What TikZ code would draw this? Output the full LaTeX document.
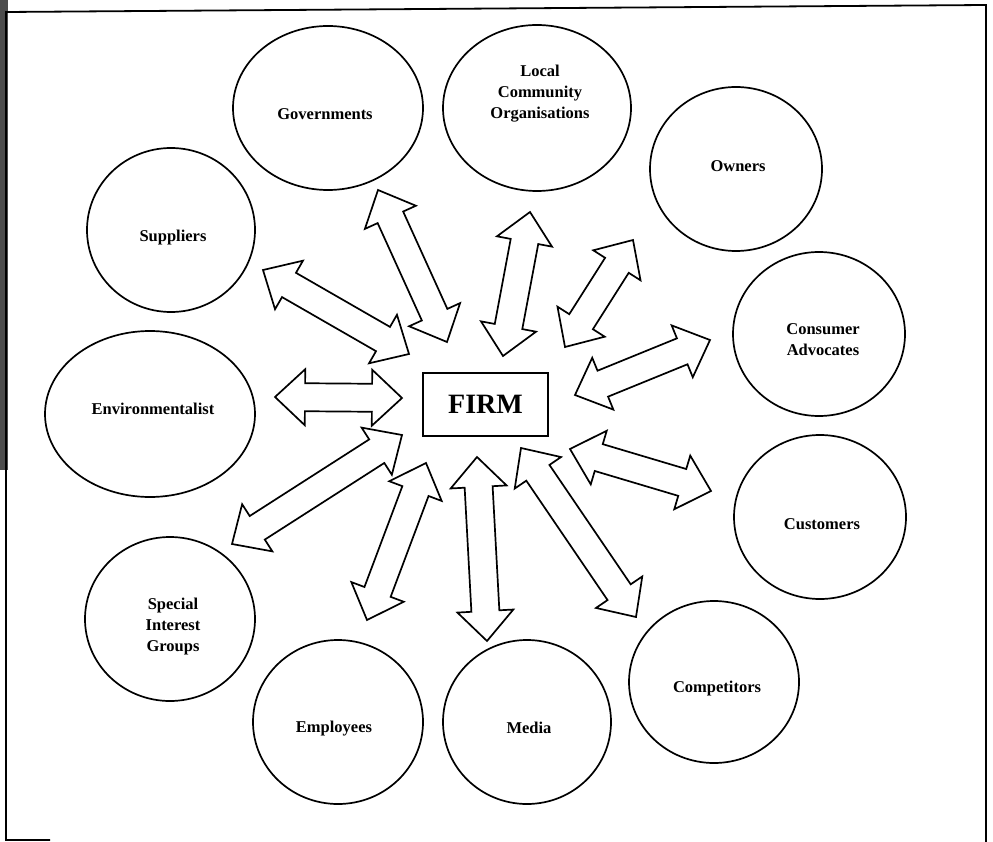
\documentclass[tikz,border=0pt]{standalone}
\usepackage{fontspec}
\setmainfont{Liberation Serif}
\usetikzlibrary{shapes.geometric,calc}
\newcommand{\dblarrow}[2]{%
\draw[blockarrow] (#1)
 -- ($($(#1)!30pt!(#2)$)!28pt!90:(#2)$)
 -- ($($(#1)!30pt!(#2)$)!14pt!90:(#2)$)
 -- ($($(#2)!30pt!(#1)$)!14pt!-90:(#1)$)
 -- ($($(#2)!30pt!(#1)$)!28pt!-90:(#1)$)
 -- (#2)
 -- ($($(#2)!30pt!(#1)$)!28pt!90:(#1)$)
 -- ($($(#2)!30pt!(#1)$)!14pt!90:(#1)$)
 -- ($($(#1)!30pt!(#2)$)!14pt!-90:(#2)$)
 -- ($($(#1)!30pt!(#2)$)!28pt!-90:(#2)$)
 -- cycle;}
\begin{document}
\begin{tikzpicture}[x=1pt,y=-1pt,
 stake/.style={ellipse,draw,line width=1.7pt,inner sep=0pt},
 lbl/.style={font=\bfseries\fontsize{16.5}{21}\selectfont,align=center,inner sep=0pt},
 blockarrow/.style={draw,line width=1.7pt,fill=white,line join=miter}]
\useasboundingbox (0,0) rectangle (993,842);
% frame
\fill[black!70] (0,0) rectangle (8,470);
\draw[line width=1.8pt] (50,840) -- (6,840) -- (6,12) -- (986,5) -- (986,842);
% stakeholder circles
\node[stake,minimum width=190pt,minimum height=164pt] (gov) at (328,108) {};
\node[stake,minimum width=188pt,minimum height=166pt] (loc) at (537,108) {};
\node[stake,minimum width=172pt,minimum height=164pt] (own) at (736,169) {};
\node[stake,minimum width=172pt,minimum height=164pt] (con) at (819,334) {};
\node[stake,minimum width=172pt,minimum height=164pt] (cus) at (820,517) {};
\node[stake,minimum width=170pt,minimum height=162pt] (com) at (714,682) {};
\node[stake,minimum width=168pt,minimum height=164pt] (med) at (527,722) {};
\node[stake,minimum width=170pt,minimum height=164pt] (emp) at (338,722) {};
\node[stake,minimum width=170pt,minimum height=164pt] (sig) at (170,619) {};
\node[stake,minimum width=210pt,minimum height=166pt] (env) at (150,414) {};
\node[stake,minimum width=168pt,minimum height=164pt] (sup) at (171,230) {};
% labels
\node[lbl] (govt) at (325,114) {Governments};
\node[lbl] (loct) at (540,94) {Local\\Community\\Organisations};
\node[lbl] (ownt) at (738,166) {Owners};
\node[lbl] (cont) at (823,340) {Consumer\\Advocates};
\node[lbl] (cust) at (822,524) {Customers};
\node[lbl] (comt) at (717,689) {Competitors};
\node[lbl] (medt) at (529,728) {Media};
\node[lbl] (empt) at (334,729) {Employees};
\node[lbl] (sigt) at (173,627) {Special\\Interest\\Groups};
\node[lbl] (envt) at (153,409) {Environmentalist};
\node[lbl] (supt) at (173,238) {Suppliers};
% firm
\node[draw,line width=1.7pt,minimum width=125pt,minimum height=63pt,inner sep=0pt,
  font=\bfseries\fontsize{28}{32}\selectfont] (firm) at (485.5,404.5) {FIRM};
% arrow ends
\coordinate (a1) at (263,270); \coordinate (b1) at (409,354);
\coordinate (a2) at (378,190); \coordinate (b2) at (447,342);
\coordinate (a3) at (530,212); \coordinate (b3) at (503,356);
\coordinate (a4) at (633,240); \coordinate (b4) at (565,347);
\coordinate (a5) at (710,340); \coordinate (b5) at (575,395);
\coordinate (a6) at (711,491); \coordinate (b6) at (570,449);
\coordinate (a7) at (636,617); \coordinate (b7) at (521,448);
\coordinate (a8) at (487,641); \coordinate (b8) at (477,457);
\coordinate (a9) at (367,620); \coordinate (b9) at (426,463);
\coordinate (a10) at (232,544); \coordinate (b10) at (402,435);
\coordinate (a11) at (275,397); \coordinate (b11) at (402,398);
\dblarrow{a1}{b1}
\dblarrow{a2}{b2}
\dblarrow{a3}{b3}
\dblarrow{a4}{b4}
\dblarrow{a5}{b5}
\dblarrow{a6}{b6}
\dblarrow{a7}{b7}
\dblarrow{a8}{b8}
\dblarrow{a10}{b10}
\dblarrow{a9}{b9}
\dblarrow{a11}{b11}
\end{tikzpicture}
\end{document}
